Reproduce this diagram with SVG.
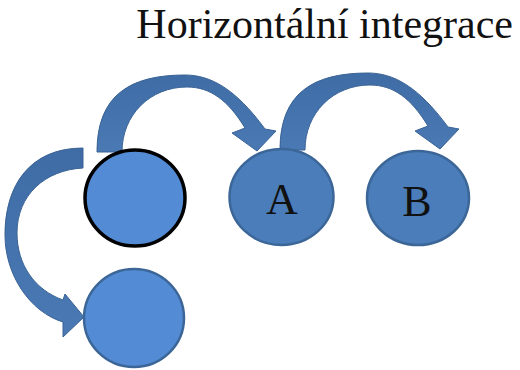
<svg xmlns="http://www.w3.org/2000/svg" width="520" height="370" viewBox="0 0 520 370">
  <style>
    .title { font-family: "Liberation Serif", "Times New Roman", serif; font-size: 42px; fill: #111; }
    .label { font-family: "Liberation Serif", "Times New Roman", serif; font-size: 44px; fill: #111; text-anchor: middle; }
    .arrow { fill: url(#arrowFill); stroke: #3a6395; stroke-width: 1; stroke-linejoin: round; }
    .node-dark { fill: #4a7dba; stroke: #3b6697; stroke-width: 2.5; }
    .node-light { fill: #538cd4; stroke: #3b6697; stroke-width: 2.5; }
    .node-focus { fill: #538cd4; stroke: #000; stroke-width: 3.5; }
  </style>
  <defs>
    <linearGradient id="arrowFill" x1="0" y1="0" x2="0" y2="1">
      <stop offset="0" stop-color="#3f6ca5"/>
      <stop offset="1" stop-color="#4a79b4"/>
    </linearGradient>
    <!-- curved block arrow: tail on the left, head pointing down-right -->
    <path id="hopArrow" d="M97,152 C97,95 130,75 185,75 C210,75 235,88 265,129 L276,131 L257,151 L232,133 L245,128 C228,100 210,87 187,87 C150,87 122,115 122,152 Z"/>
  </defs>

  <text class="title" x="513" y="38" text-anchor="end">Horizontální integrace</text>

  <g id="connectors">
    <use href="#hopArrow" class="arrow"/>
    <use href="#hopArrow" class="arrow" transform="translate(183,-2)"/>
    <path class="arrow" d="M83,148 C30,148 5,185 5,235 C5,275 30,312 63,322 L63,337 L84,317 L65,294 L63,300 C35,290 17,265 17,233 C17,195 45,170 83,168 Z"/>
  </g>

  <g id="node-origin">
    <ellipse class="node-focus" cx="135" cy="198" rx="50" ry="48"/>
  </g>
  <g id="node-a">
    <ellipse class="node-dark" cx="281.5" cy="197" rx="52" ry="48"/>
    <text class="label" x="282" y="214">A</text>
  </g>
  <g id="node-b">
    <ellipse class="node-dark" cx="418" cy="198" rx="51" ry="47"/>
    <text class="label" x="417" y="216">B</text>
  </g>
  <g id="node-lower">
    <ellipse class="node-light" cx="134" cy="318" rx="50" ry="49"/>
  </g>
</svg>
